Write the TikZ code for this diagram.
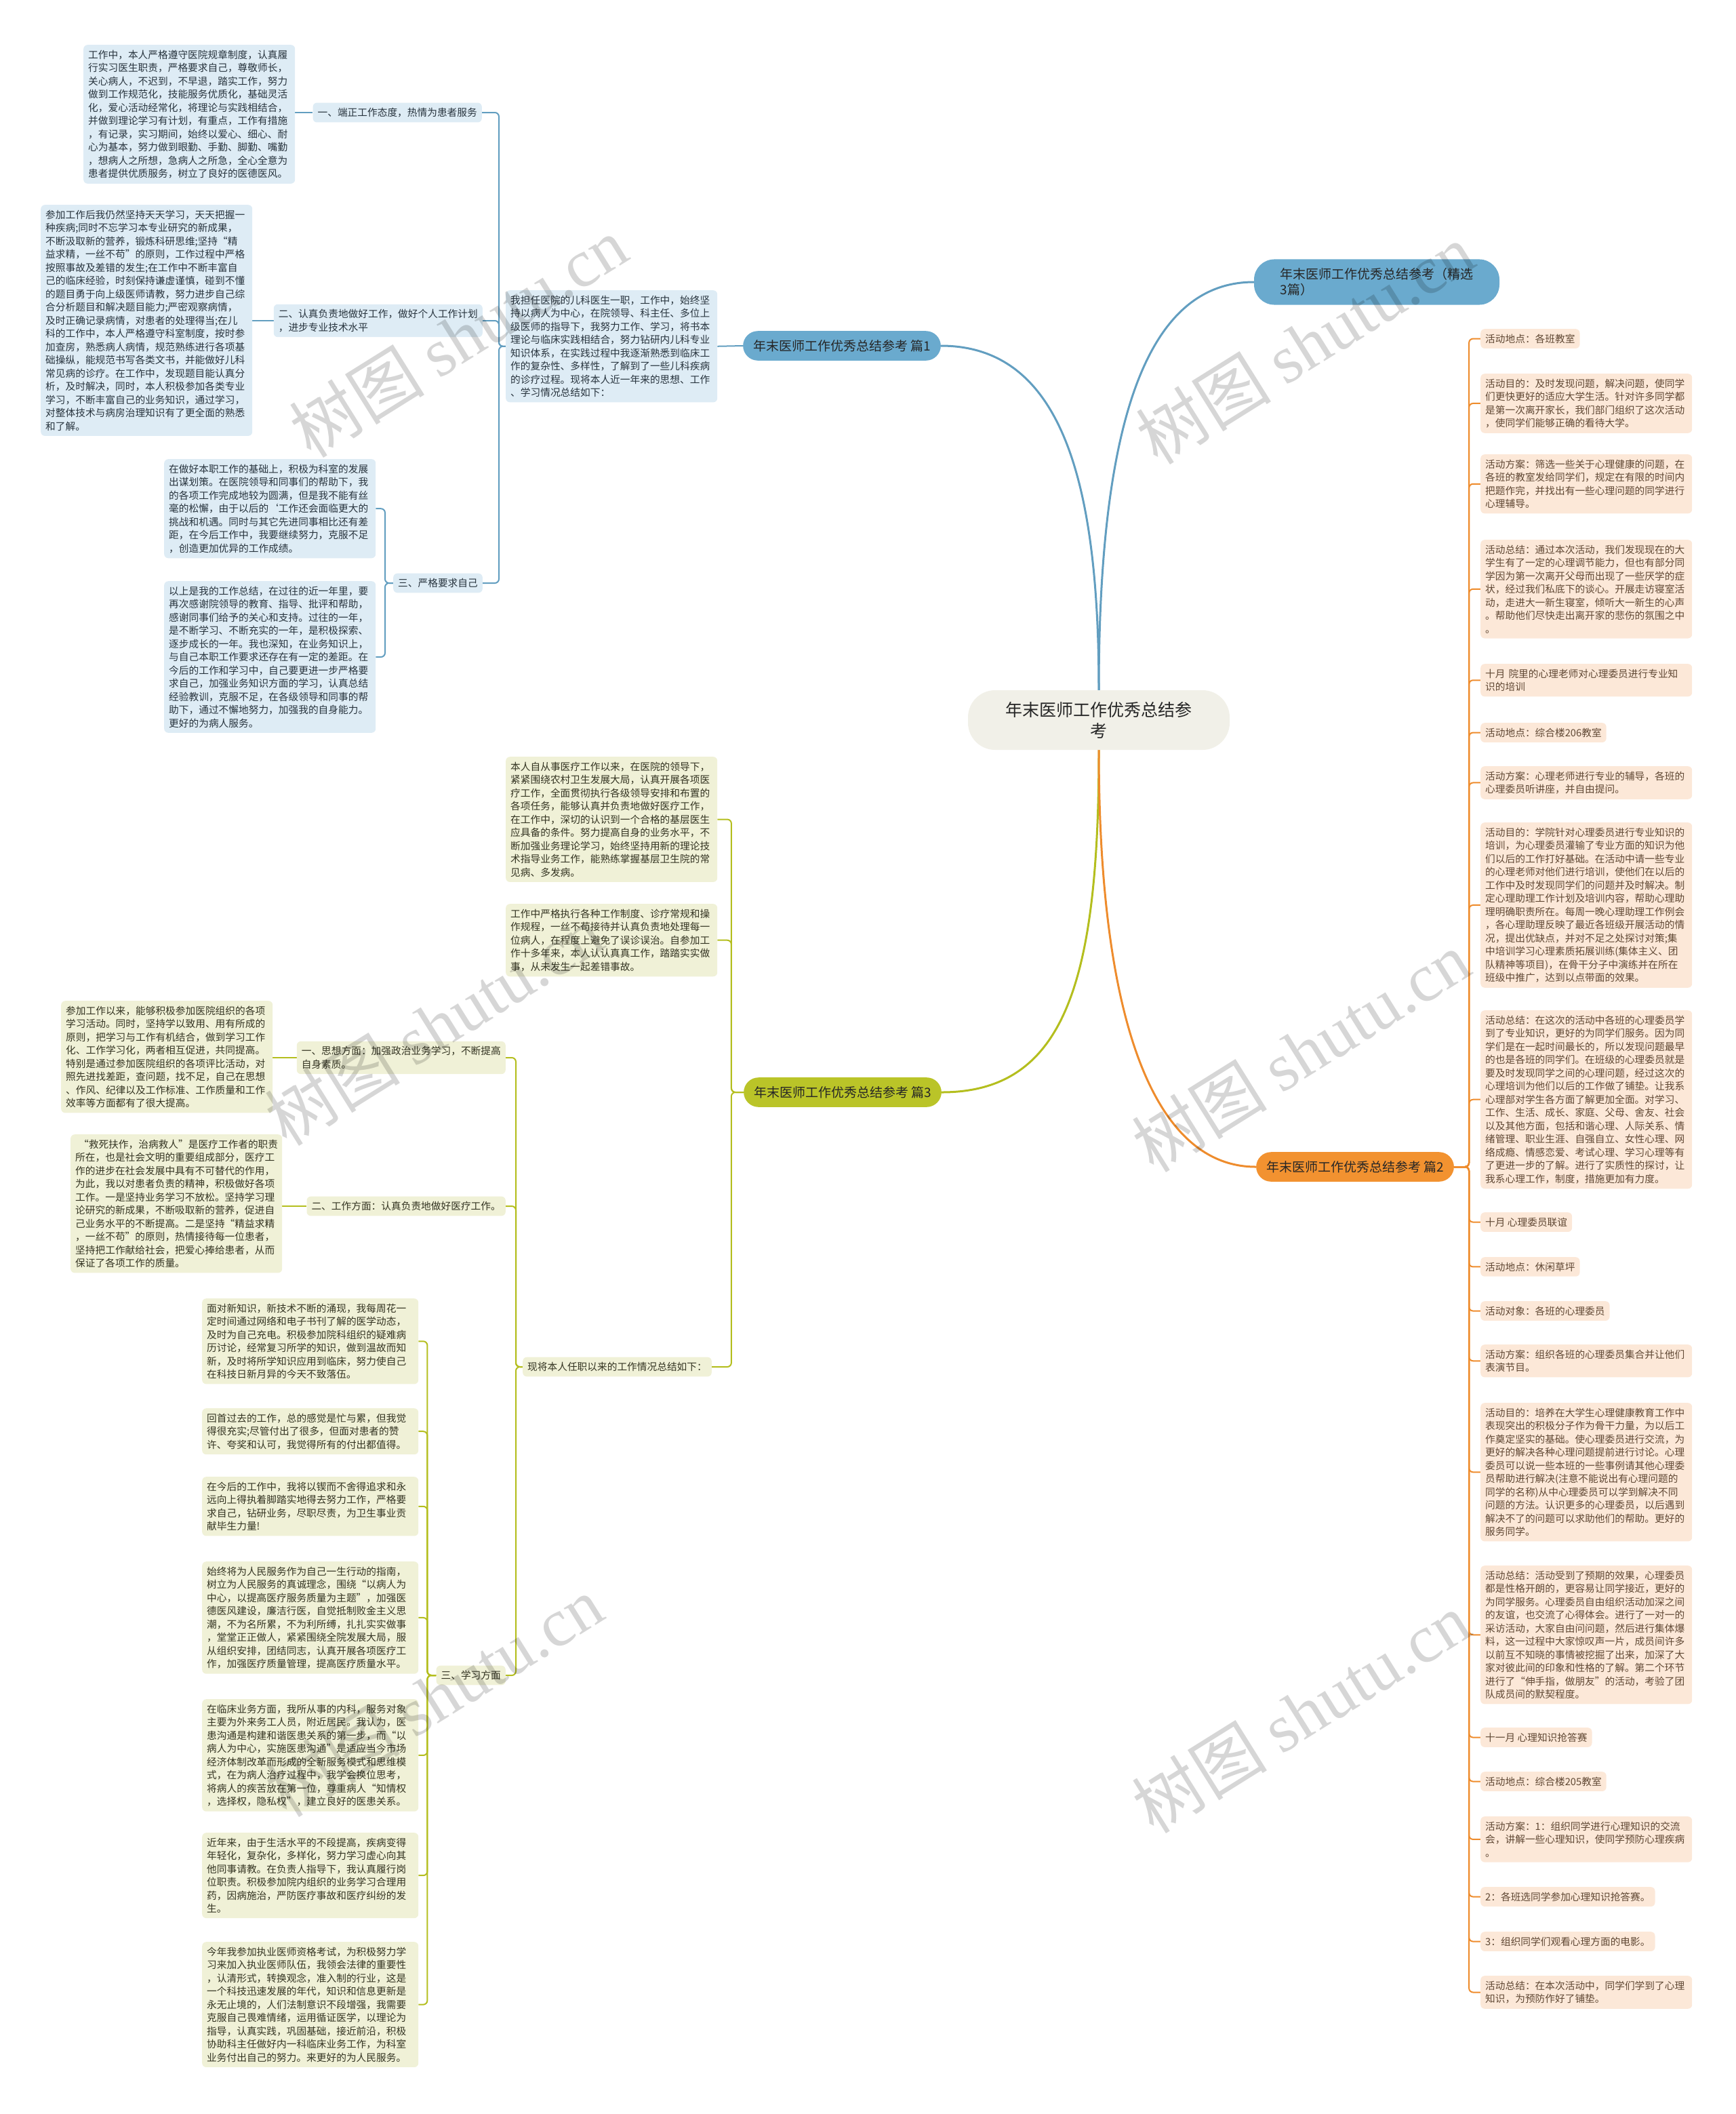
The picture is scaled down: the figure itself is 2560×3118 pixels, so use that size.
\documentclass[tikz,border=0pt]{standalone}
\usepackage{fontspec}
\setmainfont{Noto Sans CJK SC}
\newfontfamily\markfont{Liberation Serif}
\usetikzlibrary{
    positioning,
    calc,
    backgrounds
}
\definecolor{RootGray}{RGB}{241,240,232}
\definecolor{PillBlue}{RGB}{106,170,206}
\definecolor{LineBlue}{RGB}{98,158,192}
\definecolor{BoxBlue}{RGB}{222,236,245}
\definecolor{InkBlue}{RGB}{40,52,62}
\definecolor{PillGreen}{RGB}{186,196,40}
\definecolor{LineGreen}{RGB}{180,190,30}
\definecolor{BoxGreen}{RGB}{240,241,215}
\definecolor{InkGreen}{RGB}{52,52,34}
\definecolor{PillOrange}{RGB}{242,146,48}
\definecolor{LineOrange}{RGB}{238,140,45}
\definecolor{BoxOrange}{RGB}{252,232,216}
\definecolor{InkOrange}{RGB}{96,72,52}
\newcommand{\bodyfont}{\fontsize{14.7}{19.5}\selectfont}

\begin{document}
\begin{tikzpicture}[
    x=1pt, y=-1pt,
    root/.style={fill=RootGray, rounded corners=40pt, align=center,
        minimum width=386pt, minimum height=88pt,
        font=\fontsize{25}{31}\selectfont, text=black!85},
    pill/.style={rounded corners=22pt, inner xsep=15pt, inner ysep=13pt,
        font=\fontsize{19}{23}\selectfont, text=black!85},
    leaf/.style={rounded corners=6pt, inner xsep=7pt, inner ysep=7.5pt,
        align=left, font=\bodyfont},
    para/.style={leaf, anchor=north west, text width=298pt},
    chip/.style={leaf, anchor=north west},
    tag/.style={leaf, anchor=east},
    bluebox/.style={fill=BoxBlue, text=InkBlue},
    greenbox/.style={fill=BoxGreen, text=InkGreen},
    orangebox/.style={fill=BoxOrange, text=InkOrange},
    trunk/.style={line width=3pt},
    twig/.style={line width=2pt, rounded corners=6pt},
    watermark/.style={text=black, text opacity=0.16, rotate=32,
        font=\fontsize{100}{100}\selectfont}
]

\useasboundingbox (0,0) rectangle (2560,3118);

% Root and branches
\node[root] (root) at (1621,1062) {年末医师工作优秀总结参\\考};
\node[pill, fill=PillBlue] (part1) at (1242,510) {年末医师工作优秀总结参考 篇1};
\node[pill, fill=PillBlue, align=left, rounded corners=30pt,
    minimum width=362pt, minimum height=64pt] (title) at (2031,416)
    {年末医师工作优秀总结参考（精选\\3篇）};
\node[pill, fill=PillGreen] (part3) at (1243,1611) {年末医师工作优秀总结参考 篇3};
\node[pill, fill=PillOrange] (part2) at (1999,1721) {年末医师工作优秀总结参考 篇2};

% Part 1
\node[para, bluebox] (intro1) at (746,428) {我担任医院的儿科医生一职，工作中，始终坚\\持以病人为中心，在院领导、科主任、多位上\\级医师的指导下，我努力工作、学习，将书本\\理论与临床实践相结合，努力钻研内儿科专业\\知识体系，在实践过程中我逐渐熟悉到临床工\\作的复杂性、多样性，了解到了一些儿科疾病\\的诊疗过程。现将本人近一年来的思想、工作\\、学习情况总结如下：};
\node[tag, bluebox] (attitude) at (711,166) {一、端正工作态度，热情为患者服务};
\node[tag, bluebox] (duty) at (712,473) {二、认真负责地做好工作，做好个人工作计划\\，进步专业技术水平};
\node[tag, bluebox] (strict) at (712,860) {三、严格要求自己};
\node[para, bluebox] (attitudetxt) at (123,66) {工作中，本人严格遵守医院规章制度，认真履\\行实习医生职责，严格要求自己，尊敬师长，\\关心病人，不迟到，不早退，踏实工作，努力\\做到工作规范化，技能服务优质化，基础灵活\\化，爱心活动经常化，将理论与实践相结合，\\并做到理论学习有计划，有重点，工作有措施\\，有记录，实习期间，始终以爱心、细心、耐\\心为基本，努力做到眼勤、手勤、脚勤、嘴勤\\，想病人之所想，急病人之所急，全心全意为\\患者提供优质服务，树立了良好的医德医风。};
\node[para, bluebox] (dutytxt) at (60,302) {参加工作后我仍然坚持天天学习，天天把握一\\种疾病;同时不忘学习本专业研究的新成果，\\不断汲取新的营养，锻炼科研思维;坚持“精\\益求精，一丝不苟”的原则，工作过程中严格\\按照事故及差错的发生;在工作中不断丰富自\\己的临床经验，时刻保持谦虚谨慎，碰到不懂\\的题目勇于向上级医师请教，努力进步自己综\\合分析题目和解决题目能力;严密观察病情，\\及时正确记录病情，对患者的处理得当;在儿\\科的工作中，本人严格遵守科室制度，按时参\\加查房，熟悉病人病情，规范熟练进行各项基\\础操纵，能规范书写各类文书，并能做好儿科\\常见病的诊疗。在工作中，发现题目能认真分\\析，及时解决，同时，本人积极参加各类专业\\学习，不断丰富自己的业务知识，通过学习，\\对整体技术与病房治理知识有了更全面的熟悉\\和了解。};
\node[para, bluebox] (stricta) at (242,677) {在做好本职工作的基础上，积极为科室的发展\\出谋划策。在医院领导和同事们的帮助下，我\\的各项工作完成地较为圆满，但是我不能有丝\\毫的松懈，由于以后的`工作还会面临更大的\\挑战和机遇。同时与其它先进同事相比还有差\\距，在今后工作中，我要继续努力，克服不足\\，创造更加优异的工作成绩。};
\node[para, bluebox] (strictb) at (242,857) {以上是我的工作总结，在过往的近一年里，要\\再次感谢院领导的教育、指导、批评和帮助，\\感谢同事们给予的关心和支持。过往的一年，\\是不断学习、不断充实的一年，是积极探索、\\逐步成长的一年。我也深知，在业务知识上，\\与自己本职工作要求还存在有一定的差距。在\\今后的工作和学习中，自己要更进一步严格要\\求自己，加强业务知识方面的学习，认真总结\\经验教训，克服不足，在各级领导和同事的帮\\助下，通过不懈地努力，加强我的自身能力。\\更好的为病人服务。};

% Part 3
\node[para, greenbox] (introa) at (746,1116) {本人自从事医疗工作以来，在医院的领导下，\\紧紧围绕农村卫生发展大局，认真开展各项医\\疗工作，全面贯彻执行各级领导安排和布置的\\各项任务，能够认真并负责地做好医疗工作，\\在工作中，深切的认识到一个合格的基层医生\\应具备的条件。努力提高自身的业务水平，不\\断加强业务理论学习，始终坚持用新的理论技\\术指导业务工作，能熟练掌握基层卫生院的常\\见病、多发病。};
\node[para, greenbox] (introb) at (746,1333) {工作中严格执行各种工作制度、诊疗常规和操\\作规程，一丝不苟接待并认真负责地处理每一\\位病人，在程度上避免了误诊误治。自参加工\\作十多年来，本人认认真真工作，踏踏实实做\\事，从未发生一起差错事故。};
\node[tag, greenbox] (overview) at (1050,2016) {现将本人任职以来的工作情况总结如下：};
\node[tag, greenbox] (thought) at (746,1560) {一、思想方面：加强政治业务学习，不断提高\\自身素质。};
\node[tag, greenbox] (work) at (746,1779) {二、工作方面：认真负责地做好医疗工作。};
\node[tag, greenbox] (study) at (746,2471) {三、学习方面};
\node[para, greenbox] (thoughttxt) at (90,1476) {参加工作以来，能够积极参加医院组织的各项\\学习活动。同时，坚持学以致用、用有所成的\\原则，把学习与工作有机结合，做到学习工作\\化、工作学习化，两者相互促进，共同提高。\\特别是通过参加医院组织的各项评比活动，对\\照先进找差距，查问题，找不足，自己在思想\\、作风、纪律以及工作标准、工作质量和工作\\效率等方面都有了很大提高。};
\node[para, greenbox] (worktxt) at (104,1673) {\ “救死扶作，治病救人”是医疗工作者的职责\\所在，也是社会文明的重要组成部分，医疗工\\作的进步在社会发展中具有不可替代的作用，\\为此，我以对患者负责的精神，积极做好各项\\工作。一是坚持业务学习不放松。坚持学习理\\论研究的新成果，不断吸取新的营养，促进自\\己业务水平的不断提高。二是坚持“精益求精\\，一丝不苟”的原则，热情接待每一位患者，\\坚持把工作献给社会，把爱心捧给患者，从而\\保证了各项工作的质量。};
\node[para, greenbox, text width=305pt] (studya) at (298,1915) {面对新知识，新技术不断的涌现，我每周花一\\定时间通过网络和电子书刊了解的医学动态，\\及时为自己充电。积极参加院科组织的疑难病\\历讨论，经常复习所学的知识，做到温故而知\\新，及时将所学知识应用到临床，努力使自己\\在科技日新月异的今天不致落伍。};
\node[para, greenbox, text width=305pt] (studyb) at (298,2077) {回首过去的工作，总的感觉是忙与累，但我觉\\得很充实;尽管付出了很多，但面对患者的赞\\许、夸奖和认可，我觉得所有的付出都值得。};
\node[para, greenbox, text width=305pt] (studyc) at (298,2178) {在今后的工作中，我将以锲而不舍得追求和永\\远向上得执着脚踏实地得去努力工作，严格要\\求自己，钻研业务，尽职尽责，为卫生事业贡\\献毕生力量!};
\node[para, greenbox, text width=305pt] (studyd) at (298,2303) {始终将为人民服务作为自己一生行动的指南，\\树立为人民服务的真诚理念，围绕“以病人为\\中心，以提高医疗服务质量为主题”，加强医\\德医风建设，廉洁行医，自觉抵制败金主义思\\潮，不为名所累，不为利所缚，扎扎实实做事\\，堂堂正正做人，紧紧围绕全院发展大局，服\\从组织安排，团结同志，认真开展各项医疗工\\作，加强医疗质量管理，提高医疗质量水平。};
\node[para, greenbox, text width=305pt] (studye) at (298,2506) {在临床业务方面，我所从事的内科，服务对象\\主要为外来务工人员，附近居民。我认为，医\\患沟通是构建和谐医患关系的第一步，而“以\\病人为中心，实施医患沟通”是适应当今市场\\经济体制改革而形成的全新服务模式和思维模\\式，在为病人治疗过程中，我学会换位思考，\\将病人的疾苦放在第一位，尊重病人“知情权\\，选择权，隐私权”，建立良好的医患关系。};
\node[para, greenbox, text width=305pt] (studyf) at (298,2703) {近年来，由于生活水平的不段提高，疾病变得\\年轻化，复杂化，多样化，努力学习虚心向其\\他同事请教。在负责人指导下，我认真履行岗\\位职责。积极参加院内组织的业务学习合理用\\药，因病施治，严防医疗事故和医疗纠纷的发\\生。};
\node[para, greenbox, text width=305pt] (studyg) at (298,2864) {今年我参加执业医师资格考试，为积极努力学\\习来加入执业医师队伍，我领会法律的重要性\\，认清形式，转换观念，准入制的行业，这是\\一个科技迅速发展的年代，知识和信息更新是\\永无止境的，人们法制意识不段增强，我需要\\克服自己畏难情绪，运用循证医学，以理论为\\指导，认真实践，巩固基础，接近前沿，积极\\协助科主任做好内一科临床业务工作，为科室\\业务付出自己的努力。来更好的为人民服务。};

% Part 2
\node[chip, orangebox] (act1) at (2184,485) {活动地点：各班教室};
\node[para, orangebox] (act2) at (2184,551) {活动目的：及时发现问题，解决问题，使同学\\们更快更好的适应大学生活。针对许多同学都\\是第一次离开家长，我们部门组织了这次活动\\，使同学们能够正确的看待大学。};
\node[para, orangebox] (act3) at (2184,670) {活动方案：筛选一些关于心理健康的问题，在\\各班的教室发给同学们，规定在有限的时间内\\把题作完，并找出有一些心理问题的同学进行\\心理辅导。};
\node[para, orangebox] (act4) at (2184,796) {活动总结：通过本次活动，我们发现现在的大\\学生有了一定的心理调节能力，但也有部分同\\学因为第一次离开父母而出现了一些厌学的症\\状，经过我们私底下的谈心。开展走访寝室活\\动，走进大一新生寝室，倾听大一新生的心声\\。帮助他们尽快走出离开家的悲伤的氛围之中\\。};
\node[para, orangebox] (act5) at (2184,979) {十月 院里的心理老师对心理委员进行专业知\\识的培训};
\node[chip, orangebox] (act6) at (2184,1066) {活动地点：综合楼206教室};
\node[para, orangebox] (act7) at (2184,1130) {活动方案：心理老师进行专业的辅导，各班的\\心理委员听讲座，并自由提问。};
\node[para, orangebox] (act8) at (2184,1213) {活动目的：学院针对心理委员进行专业知识的\\培训，为心理委员灌输了专业方面的知识为他\\们以后的工作打好基础。在活动中请一些专业\\的心理老师对他们进行培训，使他们在以后的\\工作中及时发现同学们的问题并及时解决。制\\定心理助理工作计划及培训内容，帮助心理助\\理明确职责所在。每周一晚心理助理工作例会\\，各心理助理反映了最近各班级开展活动的情\\况，提出优缺点，并对不足之处探讨对策;集\\中培训学习心理素质拓展训练(集体主义、团\\队精神等项目)，在骨干分子中演练并在所在\\班级中推广，达到以点带面的效果。};
\node[para, orangebox] (act9) at (2184,1490) {活动总结：在这次的活动中各班的心理委员学\\到了专业知识，更好的为同学们服务。因为同\\学们是在一起时间最长的，所以发现问题最早\\的也是各班的同学们。在班级的心理委员就是\\要及时发现同学之间的心理问题，经过这次的\\心理培训为他们以后的工作做了铺垫。让我系\\心理部对学生各方面了解更加全面。对学习、\\工作、生活、成长、家庭、父母、舍友、社会\\以及其他方面，包括和谐心理、人际关系、情\\绪管理、职业生涯、自强自立、女性心理、网\\络成瘾、情感恋爱、考试心理、学习心理等有\\了更进一步的了解。进行了实质性的探讨，让\\我系心理工作，制度，措施更加有力度。};
\node[chip, orangebox] (act10) at (2184,1788) {十月 心理委员联谊};
\node[chip, orangebox] (act11) at (2184,1854) {活动地点：休闲草坪};
\node[chip, orangebox] (act12) at (2184,1919) {活动对象：各班的心理委员};
\node[para, orangebox] (act13) at (2184,1983) {活动方案：组织各班的心理委员集合并让他们\\表演节目。};
\node[para, orangebox] (act14) at (2184,2069) {活动目的：培养在大学生心理健康教育工作中\\表现突出的积极分子作为骨干力量，为以后工\\作奠定坚实的基础。使心理委员进行交流，为\\更好的解决各种心理问题提前进行讨论。心理\\委员可以说一些本班的一些事例请其他心理委\\员帮助进行解决(注意不能说出有心理问题的\\同学的名称)从中心理委员可以学到解决不同\\问题的方法。认识更多的心理委员，以后遇到\\解决不了的问题可以求助他们的帮助。更好的\\服务同学。};
\node[para, orangebox] (act15) at (2184,2309) {活动总结：活动受到了预期的效果，心理委员\\都是性格开朗的，更容易让同学接近，更好的\\为同学服务。心理委员自由组织活动加深之间\\的友谊，也交流了心得体会。进行了一对一的\\采访活动，大家自由问问题，然后进行集体爆\\料，这一过程中大家惊叹声一片，成员间许多\\以前互不知晓的事情被挖掘了出来，加深了大\\家对彼此间的印象和性格的了解。第二个环节\\进行了“伸手指，做朋友”的活动，考验了团\\队成员间的默契程度。};
\node[chip, orangebox] (act16) at (2184,2548) {十一月 心理知识抢答赛};
\node[chip, orangebox] (act17) at (2184,2613) {活动地点：综合楼205教室};
\node[para, orangebox] (act18) at (2184,2679) {活动方案：1：组织同学进行心理知识的交流\\会，讲解一些心理知识，使同学预防心理疾病\\。};
\node[chip, orangebox] (act19) at (2184,2783) {2：各班选同学参加心理知识抢答赛。};
\node[chip, orangebox] (act20) at (2184,2849) {3：组织同学们观看心理方面的电影。};
\node[para, orangebox] (act21) at (2184,2914) {活动总结：在本次活动中，同学们学到了心理\\知识，为预防作好了铺垫。};

% Connectors
\begin{pgfonlayer}{background}
\draw[trunk, LineBlue] (root.north) .. controls (1621,720) and (1570,510) .. (part1.east);
\draw[trunk, LineBlue] (root.north) .. controls (1621,600) and (1700,416) .. (title.west);
\draw[trunk, LineGreen] (root.south) .. controls (1621,1450) and (1570,1611) .. (part3.east);
\draw[trunk, LineOrange] (root.south) .. controls (1621,1500) and (1700,1721) .. (part2.west);

\draw[twig, LineBlue] (part1.west) -- (intro1.east);
\foreach \n in {attitude, duty, strict}
    \draw[twig, LineBlue] (intro1.west) -- ++(-10,0) |- (\n.east);
\draw[twig, LineBlue] (attitude.west) -- (attitude.west -| attitudetxt.east);
\draw[twig, LineBlue] (duty.west) -- (duty.west -| dutytxt.east);
\foreach \n in {stricta, strictb}
    \draw[twig, LineBlue] (strict.west) -- ++(-12,0) |- (\n.east);

\foreach \n in {introa, introb, overview}
    \draw[twig, LineGreen] (part3.west) -- ++(-18,0) |- (\n.east);
\foreach \n in {thought, work, study}
    \draw[twig, LineGreen] (overview.west) -- ++(-10,0) |- (\n.east);
\draw[twig, LineGreen] (thought.west) -- (thought.west -| thoughttxt.east);
\draw[twig, LineGreen] (work.west) -- (work.west -| worktxt.east);
\foreach \n in {a,...,g}
    \draw[twig, LineGreen] (study.west) -- ++(-13,0) |- (study\n.east);

\foreach \n in {1,...,21}
    \draw[twig, LineOrange] (part2.east) -- ++(22,0) |- (act\n.west);
\end{pgfonlayer}

% Watermarks
\foreach \wx/\wy in {676/497, 1925/507, 640/1512, 1919/1551, 640/2502, 1919/2526}
    \node[watermark] at (\wx,\wy) {树图 {\markfont shutu.cn}};

\end{tikzpicture}
\end{document}
